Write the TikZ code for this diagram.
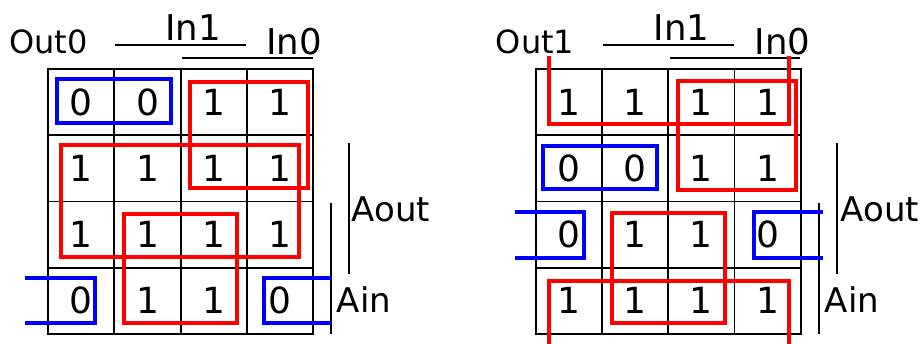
\documentclass[tikz,border=0pt]{standalone}
\usepackage{fontspec}
\setmainfont{DejaVu Sans}
\usepackage{xcolor}
\usetikzlibrary{positioning}

\tikzset{
  kcell/.style={draw, line width=1.8pt, minimum size=66.25pt, inner sep=0pt, font=\fontsize{36}{40}\selectfont},
  varname/.style={inner sep=0pt, font=\fontsize{34}{38}\selectfont},
  varbar/.style={line width=1.6pt},
  redloop/.style={draw=red, line width=3.6pt},
  blueloop/.style={draw=blue, line width=3.6pt}
}

\begin{document}
\begin{tikzpicture}[x=1pt, y=-1pt]
  \useasboundingbox (0,0) rectangle (923,344);

  % map for Out0
  \foreach \r/\vals in {0/{0,0,1,1}, 1/{1,1,1,1}, 2/{1,1,1,1}, 3/{0,1,1,0}}
    \foreach \v [count=\c from 0] in \vals
      \node[kcell] (a\r\c) at (81.25+66.25*\c, 102.1+66.25*\r) {\v};

  % map for Out1
  \foreach \r/\vals in {0/{1,1,1,1}, 1/{0,0,1,1}, 2/{0,1,1,0}, 3/{1,1,1,1}}
    \foreach \v [count=\c from 0] in \vals
      \node[kcell] (b\r\c) at (568.9+66.25*\c, 102.1+66.25*\r) {\v};

  % variable names
  \node[varname, font=\fontsize{32}{38}\selectfont] (outzero) at (48.5,42) {Out0};
  \node[varname, font=\fontsize{35.5}{40}\selectfont] (inonea) at (193,28) {In1};
  \node[varname, font=\fontsize{35.5}{40}\selectfont] (inzeroa) at (294,41.5) {In0};
  \node[varname] (aouta) at (391,209.5) {Aout};
  \node[varname] (aina) at (364,300) {Ain};

  \node[varname, font=\fontsize{32}{38}\selectfont] (outone) at (535,42) {Out1};
  \node[varname, font=\fontsize{35.5}{40}\selectfont] (inoneb) at (681.5,28) {In1};
  \node[varname, font=\fontsize{35.5}{40}\selectfont] (inzerob) at (782.5,41.5) {In0};
  \node[varname] (aoutb) at (880,209.5) {Aout};
  \node[varname] (ainb) at (852,300) {Ain};

  % ranges of the variables
  \draw[varbar] (115,45) -- (246,45);
  \draw[varbar] (182,58) -- (313,58);
  \draw[varbar] (349,143) -- (349,274);
  \draw[varbar] (331,203) -- (331,334);

  \draw[varbar] (603,45) -- (734,45);
  \draw[varbar] (670,58) -- (800,58);
  \draw[varbar] (837,143) -- (837,274);
  \draw[varbar] (819,203) -- (819,334);

  % groups, Out0
  \draw[blueloop] (57,79) rectangle (171,123);
  \draw[blueloop] (25,278) -- (95,278) -- (95,323) -- (25,323);
  \draw[blueloop] (332,278) -- (264,278) -- (264,323) -- (332,323);
  \draw[redloop] (190,82) rectangle (308,188);
  \draw[redloop] (61,145) rectangle (299,257);
  \draw[redloop] (124,214) rectangle (237,323);

  % groups, Out1
  \draw[redloop] (549,56) -- (549,124) -- (789,124) -- (789,56);
  \draw[redloop] (678,81) rectangle (796,190);
  \draw[blueloop] (543,146) rectangle (657,189);
  \draw[blueloop] (515,212) -- (584,212) -- (584,258) -- (515,258);
  \draw[blueloop] (823,212) -- (754,212) -- (754,258) -- (823,258);
  \draw[redloop] (612,213) rectangle (725,323);
  \draw[redloop] (549,346) -- (549,281) -- (789,281) -- (789,346);
\end{tikzpicture}
\end{document}
